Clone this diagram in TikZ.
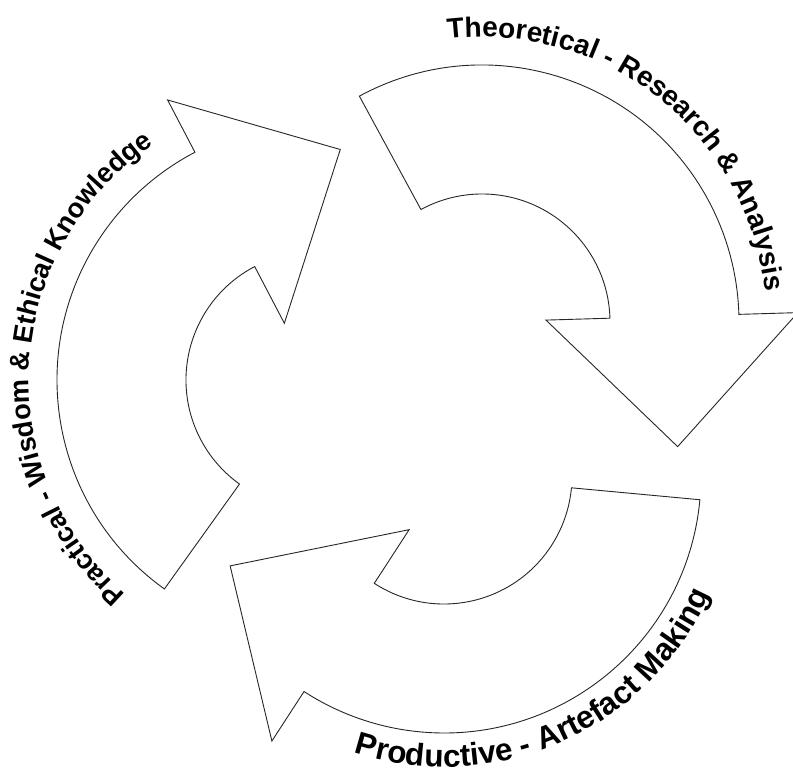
\documentclass[tikz,border=0pt]{standalone}
\usepackage{fontspec}
\setmainfont{Liberation Sans}
\usetikzlibrary{calc,decorations.text}
\tikzset{
  cyclearrow/.style={draw=black!85, line width=0.9pt, line join=miter, fill=white},
  arctext/.style={decorate},
}
\newcommand{\CycArrow}[4]{%
  \draw[cyclearrow] ($(#1)+(#2:257pt)$) arc[start angle=#2, end angle=#3, radius=257pt]
    -- ($(#1)+(#3:316pt)$) -- ($(#1)+(#4:232pt)$) -- ($(#1)+(#3:64pt)$) -- ($(#1)+(#3:128pt)$)
    arc[start angle=#3, end angle=#2, radius=128pt] -- cycle;
}
\begin{document}
\begin{tikzpicture}[x=1pt,y=1pt]
\useasboundingbox (0,0) rectangle (793,776);
\coordinate (C1) at (314,396);
\coordinate (C2) at (482,454);
\coordinate (C3) at (444,300);
% arrows
\CycArrow{C1}{234.4}{117.6}{83.5}
\CycArrow{C2}{118.5}{1.7}{-32.5}
\CycArrow{C3}{-5.3}{-123}{-157.2}
% texts
\path[arctext, decoration={text along path, text align=center,
  text={|\fontsize{27.2}{30}\selectfont\bfseries|Practical - Wisdom {\&} Ethical Knowledge}}]
  ($(C1)+(251.5:285pt)$) arc[start angle=251.5, end angle=101.5, radius=285pt];
\path[arctext, decoration={text along path, text align=center,
  text={|\fontsize{28}{30}\selectfont\bfseries|Theoretical - Research {\&} Analysis}}]
  ($(C2)+(131.5:285pt)$) arc[start angle=131.5, end angle=-28.5, radius=285pt];
\path[arctext, decoration={text along path, text align=center,
  text={|\fontsize{31.5}{34}\selectfont\bfseries|Productive - Artefact Making}}]
  ($(C3)+(224:291pt)$) arc[start angle=224, end angle=364, radius=291pt];
\end{tikzpicture}
\end{document}
